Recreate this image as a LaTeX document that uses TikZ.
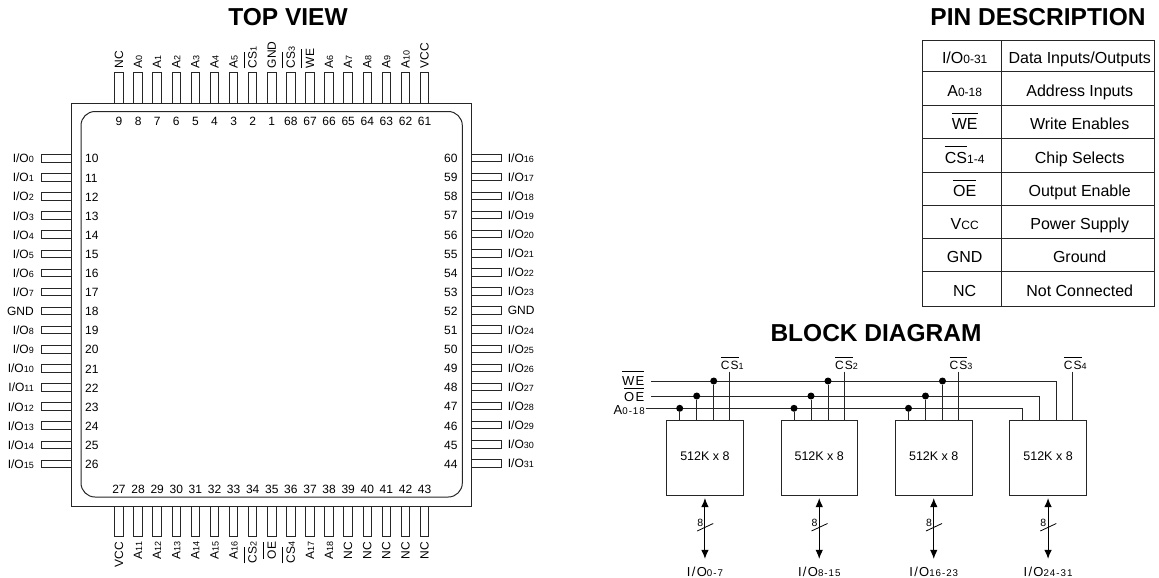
\documentclass[tikz,border=0pt]{standalone}
\usepackage{fontspec}
\usetikzlibrary{arrows.meta}
\setmainfont{Liberation Sans}
\newfontfamily\spacedfont[LetterSpace=10]{Liberation Sans}
\newcommand{\low}[1]{{\fontsize{\the\dimexpr.75\dimexpr\csname f@size\endcsname pt\relax\relax}{1em}\selectfont #1}}
\newcommand{\barred}[1]{\setbox0\hbox{#1}\rlap{\rule[1em]{\wd0}{.8pt}}\box0}
\newcommand{\ioname}{I/O}
\tikzset{
  title/.style = {font=\fontsize{24.5}{26}\selectfont\bfseries, inner sep=0},
  pin/.style = {draw=black!85, line width=1pt},
  pinname/.style = {font=\fontsize{12}{13}\selectfont, inner sep=0},
  pinnum/.style = {font=\fontsize{12}{13}\selectfont, inner sep=0},
  cell/.style = {font=\fontsize{16}{17}\selectfont, inner sep=0, anchor=base},
  memblock/.style = {draw=black!85, line width=1pt, minimum width=76.5pt, minimum height=75.5pt, inner sep=0, outer sep=0, font=\fontsize{12.5}{13}\selectfont},
  busdot/.style = {circle, fill=black, inner sep=0, minimum size=7pt},
  busline/.style = {draw=black!85, line width=1pt},
  sigtext/.style = {font=\spacedfont\fontsize{13}{14}\selectfont, inner sep=0},
  cstext/.style = {font=\spacedfont\fontsize{12}{13}\selectfont, inner sep=0, anchor=base}
}
\begin{document}
\begin{tikzpicture}[x=1pt, y=-1pt]
  \useasboundingbox (0,0) rectangle (1159,578);

  \node [title] (topview) at (288,17) {TOP VIEW};
  \node [title] (pindesc) at (1038,17) {PIN DESCRIPTION};
  \node [title] (blockdiag) at (876,333) {BLOCK DIAGRAM};

  \draw [pin] (71.5,103) rectangle (471.7,506);
  \draw [pin, rounded corners=14pt] (81,111.5) rectangle (462.3,497);

  \foreach \num/\lab [count=\i from 0] in {9/NC, 8/A\low{0}, 7/A\low{1}, 6/A\low{2}, 5/A\low{3}, 4/A\low{4}, 3/A\low{5}, 2/\barred{CS}\low{1}, 1/GND, 68/\barred{CS}\low{3}, 67/\barred{WE}, 66/A\low{6}, 65/A\low{7}, 64/A\low{8}, 63/A\low{9}, 62/A\low{10}, 61/VCC} {
    \draw [pin] (114.75+19.1*\i,73) rectangle (123.25+19.1*\i,103);
    \node [pinname, rotate=90, anchor=base west] (top\i) at (123+19.1*\i,68.5) {\lab};
    \node [pinnum] (topnum\i) at (119+19.1*\i,121) {\num};
  }
  \foreach \num/\lab [count=\i from 0] in {27/VCC, 28/A\low{11}, 29/A\low{12}, 30/A\low{13}, 31/A\low{14}, 32/A\low{15}, 33/A\low{16}, 34/\barred{CS}\low{2}, 35/\barred{OE}, 36/\barred{CS}\low{4}, 37/A\low{17}, 38/A\low{18}, 39/NC, 40/NC, 41/NC, 42/NC, 43/NC} {
    \draw [pin] (114.75+19.1*\i,506) rectangle (123.25+19.1*\i,536);
    \node [pinname, rotate=90, anchor=base east] (bot\i) at (123+19.1*\i,541.5) {\lab};
    \node [pinnum] (botnum\i) at (119+19.1*\i,489.5) {\num};
  }
  \foreach \num/\lab [count=\i from 0] in {10/\ioname\low{0}, 11/\ioname\low{1}, 12/\ioname\low{2}, 13/\ioname\low{3}, 14/\ioname\low{4}, 15/\ioname\low{5}, 16/\ioname\low{6}, 17/\ioname\low{7}, 18/GND, 19/\ioname\low{8}, 20/\ioname\low{9}, 21/\ioname\low{10}, 22/\ioname\low{11}, 23/\ioname\low{12}, 24/\ioname\low{13}, 25/\ioname\low{14}, 26/\ioname\low{15}} {
    \draw [pin] (41,154.5+19.1*\i) rectangle (71.5,162+19.1*\i);
    \node [pinname, anchor=east] (left\i) at (34,158.5+19.1*\i) {\lab};
    \node [pinnum, anchor=west] (leftnum\i) at (85,158.8+19.1*\i) {\num};
  }
  \foreach \num/\lab [count=\i from 0] in {60/\ioname\low{16}, 59/\ioname\low{17}, 58/\ioname\low{18}, 57/\ioname\low{19}, 56/\ioname\low{20}, 55/\ioname\low{21}, 54/\ioname\low{22}, 53/\ioname\low{23}, 52/GND, 51/\ioname\low{24}, 50/\ioname\low{25}, 49/\ioname\low{26}, 48/\ioname\low{27}, 47/\ioname\low{28}, 46/\ioname\low{29}, 45/\ioname\low{30}, 44/\ioname\low{31}} {
    \draw [pin] (471.7,154+19.1*\i) rectangle (501.7,161.5+19.1*\i);
    \node [pinname, anchor=west] (right\i) at (507.7,158+19.1*\i) {\lab};
    \node [pinnum, anchor=east] (rightnum\i) at (457.7,158.5+19.1*\i) {\num};
  }

  \draw [pin] (922.7,41) rectangle (1154,306.7);
  \draw [pin] (1001.3,41) -- (1001.3,306.7);
  \foreach \y in {71.7,105.3,138.7,172,205.3,238.3,271.7} {
    \draw [pin] (922.7,\y) -- (1154,\y);
  }
  \foreach \sym/\desc [count=\i from 0] in {\ioname\low{0-31}/Data Inputs\slash Outputs, A\low{0-18}/Address Inputs, \barred{WE}/Write Enables, \barred{CS}\low{1-4}/Chip Selects, \barred{OE}/Output Enable, V\low{CC}/Power Supply, GND/Ground, NC/Not Connected} {
    \node [cell] (sym\i) at (964.7,63.3+33.27*\i) {\sym};
    \node [cell] (desc\i) at (1079.7,63.3+33.27*\i) {\desc};
  }

  \foreach \i/\x/\n/\io in {1/666.7/1/0-7, 2/781/2/8-15, 3/895.5/3/16-23, 4/1009.8/4/24-31} {
    \node [memblock] (mem\i) at (\x+38.25,458) {\raisebox{4pt}{512K x 8}};
    \node [cstext] (cs\i) at (\x+65.5,369.3) {\barred{CS}\low{\n}};
    \coordinate (cstop\i) at (\x+63,371.7);
    \draw [busline] (cstop\i) -- (cstop\i |- mem\i.north);
    \node [sigtext, anchor=base] (io\i) at (\x+38.25,576) {\ioname\low{\io}};
    \draw [{Latex[length=9pt,width=7.5pt]}-{Latex[length=9pt,width=7.5pt]}, line width=1pt] ([yshift=-2.3pt]mem\i.south) -- ([yshift=7.5pt]io\i.north);
    \draw [line width=.8pt] (\x+30.5,531) -- (\x+46.5,523.5);
    \node [pinname, font=\fontsize{10.5}{11}\selectfont] (width\i) at (\x+33.5,522.5) {8};
  }

  \node [sigtext, anchor=base east] (welabel) at (644.5,385) {\barred{WE}};
  \node [sigtext, anchor=base east] (oelabel) at (644.5,401.7) {\barred{OE}};
  \node [sigtext, anchor=base east] (alabel) at (645,414.7) {A\low{0-18}};
  \coordinate (webus) at (651,381);
  \coordinate (oebus) at (651,396);
  \coordinate (abus) at (645.7,408.3);
  \draw [busline] (webus) -| ([xshift=47pt]mem4.north west);
  \draw [busline] (oebus) -| ([xshift=30pt]mem4.north west);
  \draw [busline] (abus) -| ([xshift=13pt]mem4.north west);
  \foreach \i in {1,2,3} {
    \node [busdot] (adot\i) at ([xshift=13pt]mem\i.north west |- abus) {};
    \node [busdot] (oedot\i) at ([xshift=30pt]mem\i.north west |- oebus) {};
    \node [busdot] (wedot\i) at ([xshift=47pt]mem\i.north west |- webus) {};
    \draw [busline] (adot\i) -- (adot\i |- mem\i.north);
    \draw [busline] (oedot\i) -- (oedot\i |- mem\i.north);
    \draw [busline] (wedot\i) -- (wedot\i |- mem\i.north);
  }
\end{tikzpicture}
\end{document}
